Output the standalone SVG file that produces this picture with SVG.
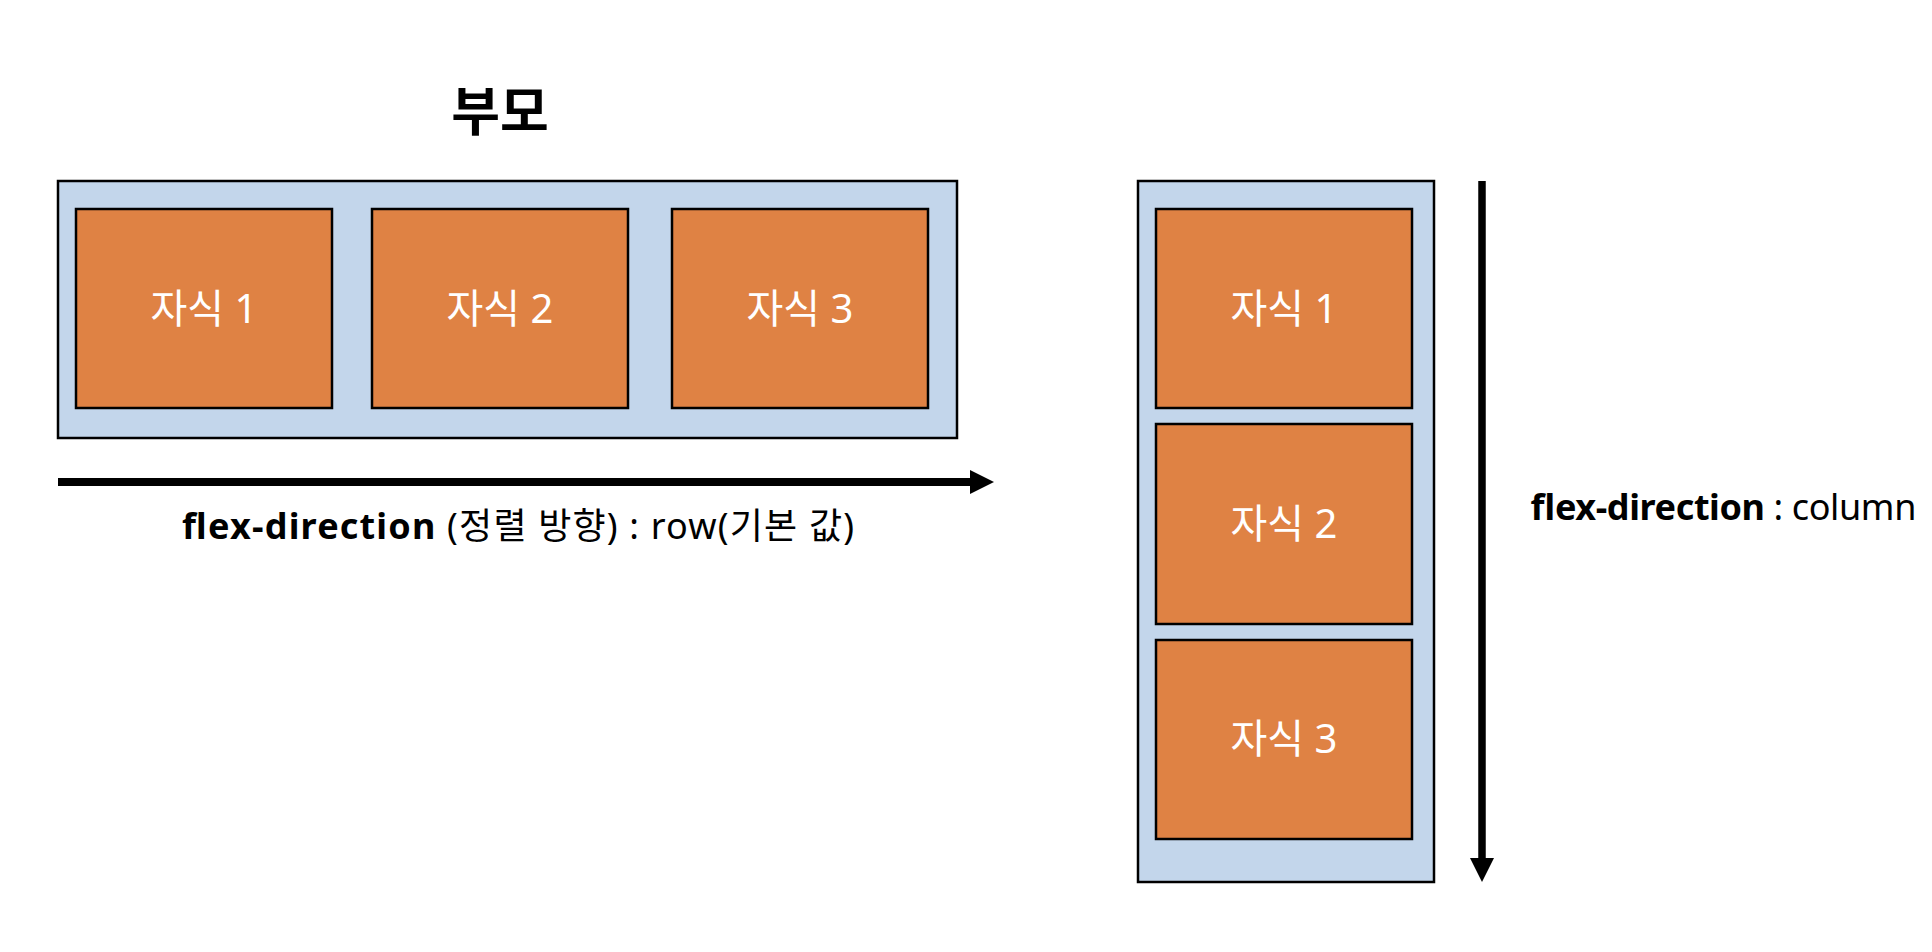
<svg xmlns="http://www.w3.org/2000/svg" width="1932" height="952" viewBox="0 0 1932 952">
<style>
  .parent { fill: #C3D6EB; stroke: #000; stroke-width: 2.5; }
  .child { fill: #DF8244; stroke: #000; stroke-width: 2.5; }
  .clabel { font-family: "Noto Sans", "Noto Sans CJK KR", sans-serif; font-size: 40px; fill: #fff; text-anchor: middle; }
  .label { font-family: "Noto Sans", "Noto Sans CJK KR", sans-serif; font-size: 36px; fill: #000; }
  .b { font-weight: bold; }
  .title { font-family: "Noto Sans CJK KR", sans-serif; font-size: 53px; font-weight: bold; fill: #000; text-anchor: middle; }
  .conn { stroke: #000; fill: none; }
</style>
<defs>
  <marker id="arrow" viewBox="0 0 24 24" refX="0" refY="12" markerWidth="24" markerHeight="24" markerUnits="userSpaceOnUse" orient="auto">
    <path d="M0,0 L24,12 L0,24 Z" fill="#000"/>
  </marker>
</defs>
<rect width="1932" height="952" fill="#fff"/>

<g id="title">
  <text class="title" x="500" y="131">부모</text>
</g>

<g id="row-parent">
  <rect class="parent" x="58" y="181" width="899" height="257"/>
</g>
<g id="row-child-1">
  <rect class="child" x="76" y="209" width="256" height="199"/>
  <text class="clabel" x="204" y="323">자식 1</text>
</g>
<g id="row-child-2">
  <rect class="child" x="372" y="209" width="256" height="199"/>
  <text class="clabel" x="500" y="323">자식 2</text>
</g>
<g id="row-child-3">
  <rect class="child" x="672" y="209" width="256" height="199"/>
  <text class="clabel" x="800" y="323">자식 3</text>
</g>

<g id="col-parent">
  <rect class="parent" x="1138" y="181" width="296" height="701"/>
</g>
<g id="col-child-1">
  <rect class="child" x="1156" y="209" width="256" height="199"/>
  <text class="clabel" x="1284" y="323">자식 1</text>
</g>
<g id="col-child-2">
  <rect class="child" x="1156" y="424" width="256" height="200"/>
  <text class="clabel" x="1284" y="538">자식 2</text>
</g>
<g id="col-child-3">
  <rect class="child" x="1156" y="640" width="256" height="199"/>
  <text class="clabel" x="1284" y="753">자식 3</text>
</g>

<g id="connectors">
  <line class="conn" x1="58" y1="482" x2="970" y2="482" stroke-width="8" marker-end="url(#arrow)"/>
  <line class="conn" x1="1482" y1="181" x2="1482" y2="858" stroke-width="7.5" marker-end="url(#arrow)"/>
</g>

<g id="row-label">
  <text class="label" x="182" y="539" textLength="672" lengthAdjust="spacing"><tspan class="b">flex-direction</tspan> (정렬 방향) : row(기본 값)</text>
</g>
<g id="col-label">
  <text class="label" x="1530" y="520" textLength="386" lengthAdjust="spacing"><tspan class="b">flex-direction</tspan> : column</text>
</g>
</svg>
